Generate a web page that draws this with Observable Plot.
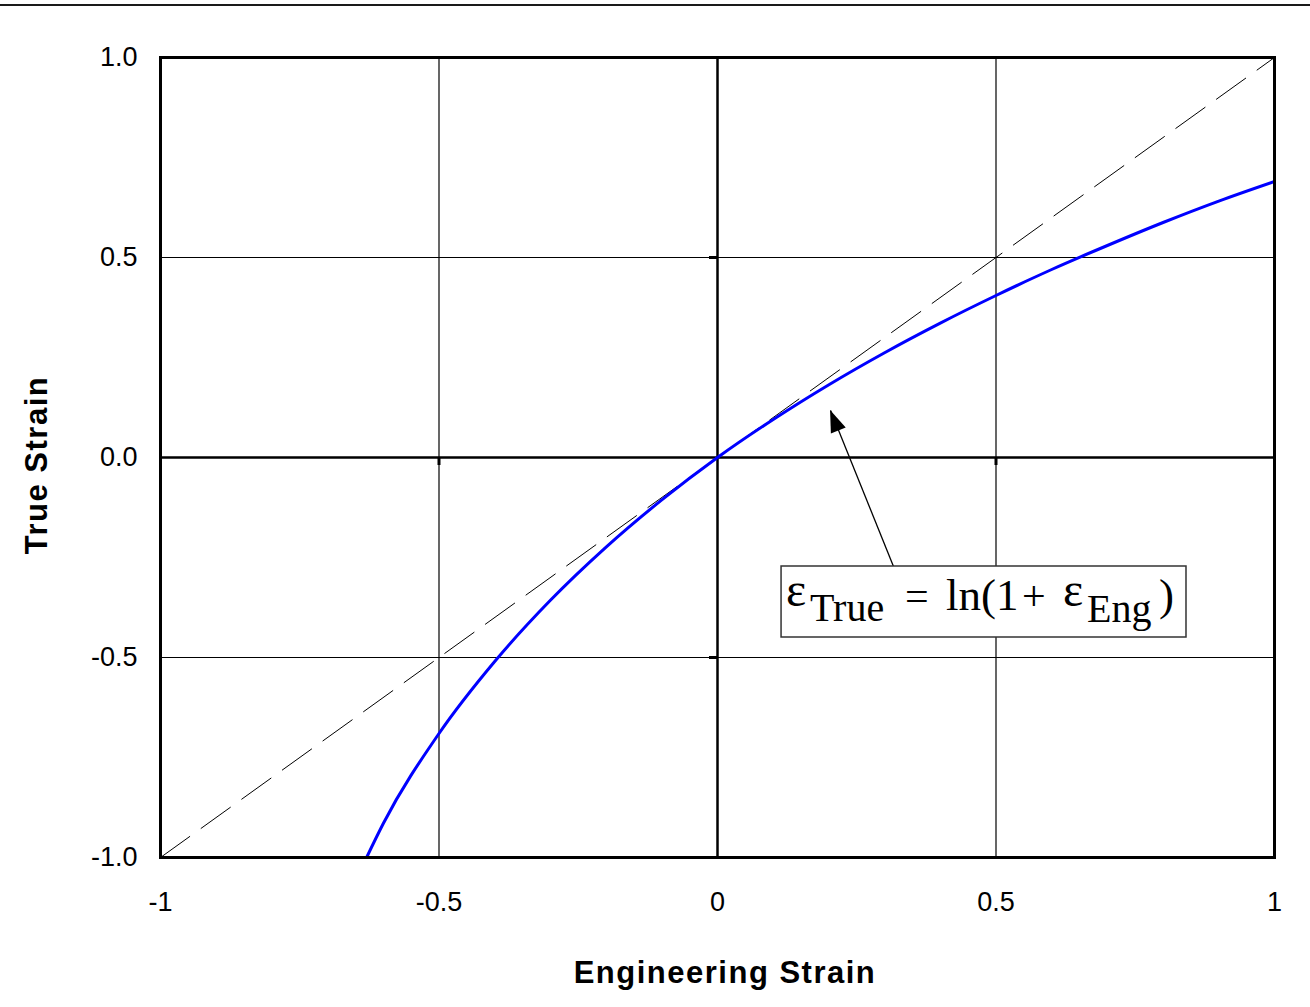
<!DOCTYPE html>
<html>
<head>
<meta charset="utf-8">
<script src="https://cdn.jsdelivr.net/npm/d3@7"></script>
<script src="https://cdn.jsdelivr.net/npm/@observablehq/plot@0.6"></script>
<style>
  html, body { margin: 0; padding: 0; background: #fff; }
  #wrap { position: relative; width: 1310px; height: 1007px; overflow: hidden; }
  #topline { position: absolute; left: 0; top: 4px; width: 1310px; height: 2px; background: #1a1a1a; }
</style>
</head>
<body>
<div id="wrap"><div id="topline"></div></div>
<script>
// Engineering strain (x) vs true strain (y)
const engStrain  = [-0.63, -0.6, -0.5, -0.4, -0.3, -0.2, -0.1, 0.0, 0.1, 0.2, 0.3, 0.4, 0.5, 0.6, 0.7, 0.8, 0.9, 1.0];
const trueStrain = [-1.0, -0.915, -0.69, -0.51, -0.357, -0.224, -0.106, 0.0, 0.095, 0.182, 0.262, 0.336, 0.405, 0.47, 0.53, 0.5875, 0.641, 0.69];
// reference line true = eng
const refX = [-1, 1];
const refY = [-1, 1];
const xTicks = [-1, -0.5, 0, 0.5, 1];
const yTicks = [-1, -0.5, 0, 0.5, 1];
const gridX = [-0.5, 0.5];
const gridY = [-0.5, 0.5];
const xLabel = "Engineering Strain";
const yLabel = "True Strain";
// annotation box (data coords) and arrow
const boxX = [0.115, 0.842];
const boxY = [-0.2725, -0.45];
const arrowFrom = [0.316, -0.2725];
const arrowTo = [0.203, 0.1175];

const curve = engStrain.map((x, i) => ({x, y: trueStrain[i]}));
const ref = refX.map((x, i) => ({x, y: refY[i]}));

const font = "Liberation Sans, Arial, sans-serif";

const chart = Plot.plot({
  width: 1310,
  height: 1007,
  marginLeft: 160,
  marginRight: 36,
  marginTop: 57,
  marginBottom: 150,
  style: {fontFamily: font, background: "transparent", overflow: "visible"},
  x: {domain: [-1, 1]},
  y: {domain: [-1, 1]},
  marks: [
    Plot.ruleX(gridX, {stroke: "#000", strokeWidth: 1.2}),
    Plot.ruleY(gridY, {stroke: "#000", strokeWidth: 1.2}),
    Plot.ruleX([0], {stroke: "#000", strokeWidth: 2.5}),
    Plot.ruleY([0], {stroke: "#000", strokeWidth: 2.5}),
    // small outside ticks on the zero axes
    Plot.ruleX(gridX, {y1: 0, y2: -0.02, stroke: "#000", strokeWidth: 3}),
    Plot.ruleY(gridY, {x1: -0.0144, x2: 0, stroke: "#000", strokeWidth: 3}),
    Plot.line(ref, {x: "x", y: "y", stroke: "#000", strokeWidth: 1, strokeDasharray: "36,14"}),
    Plot.line(curve, {x: "x", y: "y", stroke: "#0000ff", strokeWidth: 3, curve: "monotone-x"}),
    Plot.link([{x1: arrowFrom[0], y1: arrowFrom[1], x2: arrowTo[0], y2: arrowTo[1]}],
      {x1: "x1", y1: "y1", x2: "x2", y2: "y2", stroke: "#000", strokeWidth: 1.3}),
    Plot.rect([{x1: boxX[0], x2: boxX[1], y1: boxY[0], y2: boxY[1]}],
      {x1: "x1", x2: "x2", y1: "y1", y2: "y2", fill: "#fff", stroke: "#333", strokeWidth: 1.5}),
    Plot.frame({stroke: "#000", strokeWidth: 3}),
    Plot.axisX(xTicks, {tickSize: 0, tickPadding: 34, fontSize: 27, fill: "#000",
      tickFormat: d => String(d), label: null}),
    Plot.axisY(yTicks, {tickSize: 0, tickPadding: 23, fontSize: 27, fill: "#000",
      tickFormat: d => d.toFixed(1), label: null}),
  ]
});

document.getElementById("wrap").appendChild(chart);
chart.style.position = "absolute";
chart.style.left = "0";
chart.style.top = "0";

const svg = d3.select(chart);
const sx = chart.scale("x").apply, sy = chart.scale("y").apply;

// axis titles
svg.append("text")
  .attr("x", (sx(-1) + sx(1)) / 2 + 8).attr("y", 983)
  .attr("text-anchor", "middle")
  .attr("font-family", font).attr("font-weight", "bold").attr("font-size", 31)
  .attr("letter-spacing", 1.5)
  .text(xLabel);
svg.append("text")
  .attr("transform", `translate(47,${(sy(-1) + sy(1)) / 2 + 8}) rotate(-90)`)
  .attr("text-anchor", "middle")
  .attr("font-family", font).attr("font-weight", "bold").attr("font-size", 31)
  .attr("letter-spacing", 1.5)
  .text(yLabel);

// filled arrowhead
{
  const x0 = sx(arrowFrom[0]), y0 = sy(arrowFrom[1]);
  const x1 = sx(arrowTo[0]), y1 = sy(arrowTo[1]);
  const ang = Math.atan2(y1 - y0, x1 - x0);
  const L = 22, W = 8;
  const bx = x1 - L * Math.cos(ang), by = y1 - L * Math.sin(ang);
  const px = -Math.sin(ang), py = Math.cos(ang);
  svg.append("polygon")
    .attr("points", [[x1, y1], [bx + W * px, by + W * py], [bx - W * px, by - W * py]].map(p => p.join(",")).join(" "))
    .attr("fill", "#000");
}

// equation text inside the box
{
  const left = sx(boxX[0]);
  const base = sy(boxY[0]) + 44;
  const serif = "Liberation Serif, Times New Roman, serif";
  const parts = [
    {t: "ε", dx: 5, dy: -4, fs: 48},
    {t: "True", dx: 29, dy: 11, fs: 40},
    {t: "=", dx: 124, dy: 0, fs: 42},
    {t: "ln(1", dx: 165, dy: 0, fs: 45},
    {t: "+", dx: 241, dy: 0, fs: 42},
    {t: "ε", dx: 282, dy: -4, fs: 48},
    {t: "Eng", dx: 306, dy: 12, fs: 40},
    {t: ")", dx: 378, dy: 0, fs: 45},
  ];
  const g = svg.append("g").attr("font-family", serif).attr("fill", "#000")
    .attr("text-anchor", "start");
  for (const p of parts) {
    g.append("text").attr("x", left + p.dx).attr("y", base + p.dy)
      .attr("text-anchor", "start")
      .attr("font-size", p.fs).text(p.t);
  }
}
</script>
</body>
</html>
